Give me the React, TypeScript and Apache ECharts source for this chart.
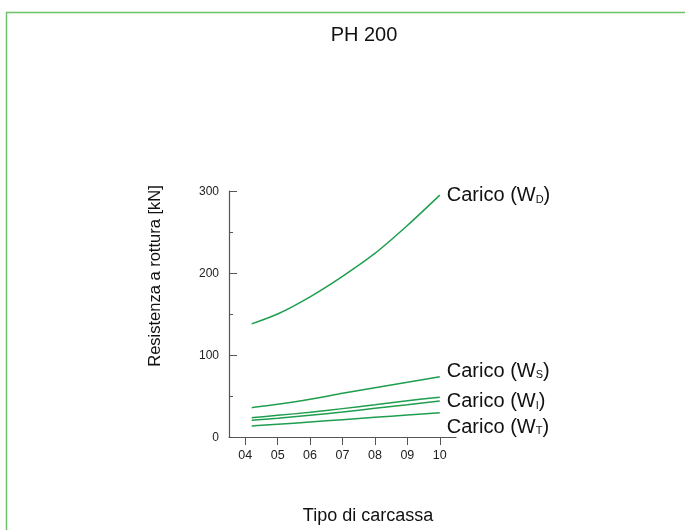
import React, { useEffect, useRef } from "react";
import * as echarts from "echarts";

const typeX = [4.2, 5, 6, 7, 8, 9, 10];
const tickValues = [4, 5, 6, 7, 8, 9, 10];
const wD = [138, 150, 171, 196, 224, 258, 295];
const wS = [35.8, 39.9, 46, 53.3, 60.2, 66.7, 73.6];
const wI = [23.6, 26.4, 30.1, 34.6, 39.4, 44.3, 48.5];
const wI2 = [20.4, 22.8, 26.5, 30.5, 35, 39.4, 44];
const wT = [13.4, 15.5, 18.3, 21.1, 24, 26.9, 29.7];

const labels = [
  { data: wD, sub: "D", offset: [0, -1] },
  { data: wS, sub: "S", offset: [0, -7] },
  { data: wI, sub: "I", offset: [0, 3] },
  { data: wI2, sub: "", offset: [0, 0] },
  { data: wT, sub: "T", offset: [0, 13] },
];

const FONT = "'Liberation Sans', Arial, Helvetica, sans-serif";
const LINE = "#1f9e4f";
const AXIS = "#555555";

export default function App() {
  const ref = useRef<HTMLDivElement>(null);
  useEffect(() => {
    document.body.style.margin = "0";
    const chart = echarts.init(ref.current!, null, { renderer: "svg" });
    const series = labels.map((l) => ({
      type: "line",
      data: typeX.map((x, i) => [x, l.data[i]]),
      smooth: 0.25,
      symbol: "none",
      lineStyle: { color: LINE, width: 1.5 },
      endLabel: l.sub
        ? {
            show: true,
            offset: l.offset,
            distance: 7,
            formatter: () => `{a|Carico (W}{s|${l.sub}}{a|)}`,
            rich: {
              a: { fontFamily: FONT, fontSize: 20, color: "#111" },
              s: { fontFamily: FONT, fontSize: 11, color: "#111", verticalAlign: "bottom", padding: [5, 0, 0, 0] },
            },
          }
        : { show: false },
    }));
    chart.setOption({
      animation: false,
      textStyle: { fontFamily: FONT },
      grid: { left: 229, top: 191, right: 229, bottom: 93 },
      xAxis: {
        type: "value",
        min: 3.5,
        max: 10.5,
        axisLine: { show: true, onZero: false, lineStyle: { color: AXIS, width: 1.2 } },
        axisTick: { show: true, inside: false, length: 8, customValues: tickValues, lineStyle: { color: AXIS } },
        axisLabel: {
          show: true,
          customValues: tickValues,
          margin: 11,
          fontSize: 12.5,
          color: "#222",
          fontFamily: FONT,
          formatter: (v: number) => String(v).padStart(2, "0"),
        },
        splitLine: { show: false },
      },
      yAxis: {
        type: "value",
        min: 0,
        max: 300,
        interval: 100,
        axisLine: { show: true, lineStyle: { color: AXIS, width: 1.2 } },
        axisTick: { show: true, inside: true, length: 8, lineStyle: { color: AXIS } },
        minorTick: { show: true, splitNumber: 2, length: 4, lineStyle: { color: AXIS } },
        axisLabel: { margin: 10, fontSize: 12, color: "#222", fontFamily: FONT },
        splitLine: { show: false },
      },
      graphic: [
        {
          type: "rect",
          shape: { x: 6.5, y: 12.5, width: 720, height: 600 },
          style: { fill: "none", stroke: "#6cc26a", lineWidth: 1.5 },
          silent: true,
        },
        {
          type: "text",
          x: 364,
          y: 34,
          style: { text: "PH 200", fontSize: 20, fontFamily: FONT, fill: "#111", textAlign: "center", textVerticalAlign: "middle" },
        },
        {
          type: "text",
          x: 368,
          y: 515,
          style: { text: "Tipo di carcassa", fontSize: 18, fontFamily: FONT, fill: "#111", textAlign: "center", textVerticalAlign: "middle" },
        },
        {
          type: "text",
          x: 154,
          y: 276,
          rotation: Math.PI / 2,
          style: { text: "Resistenza a rottura [kN]", fontSize: 16.5, fontFamily: FONT, fill: "#111", textAlign: "center", textVerticalAlign: "middle" },
        },
      ],
      series,
    });
    return () => chart.dispose();
  }, []);
  return <div ref={ref} style={{ position: "fixed", left: 0, top: 0, width: 685, height: 530 }} />;
}
